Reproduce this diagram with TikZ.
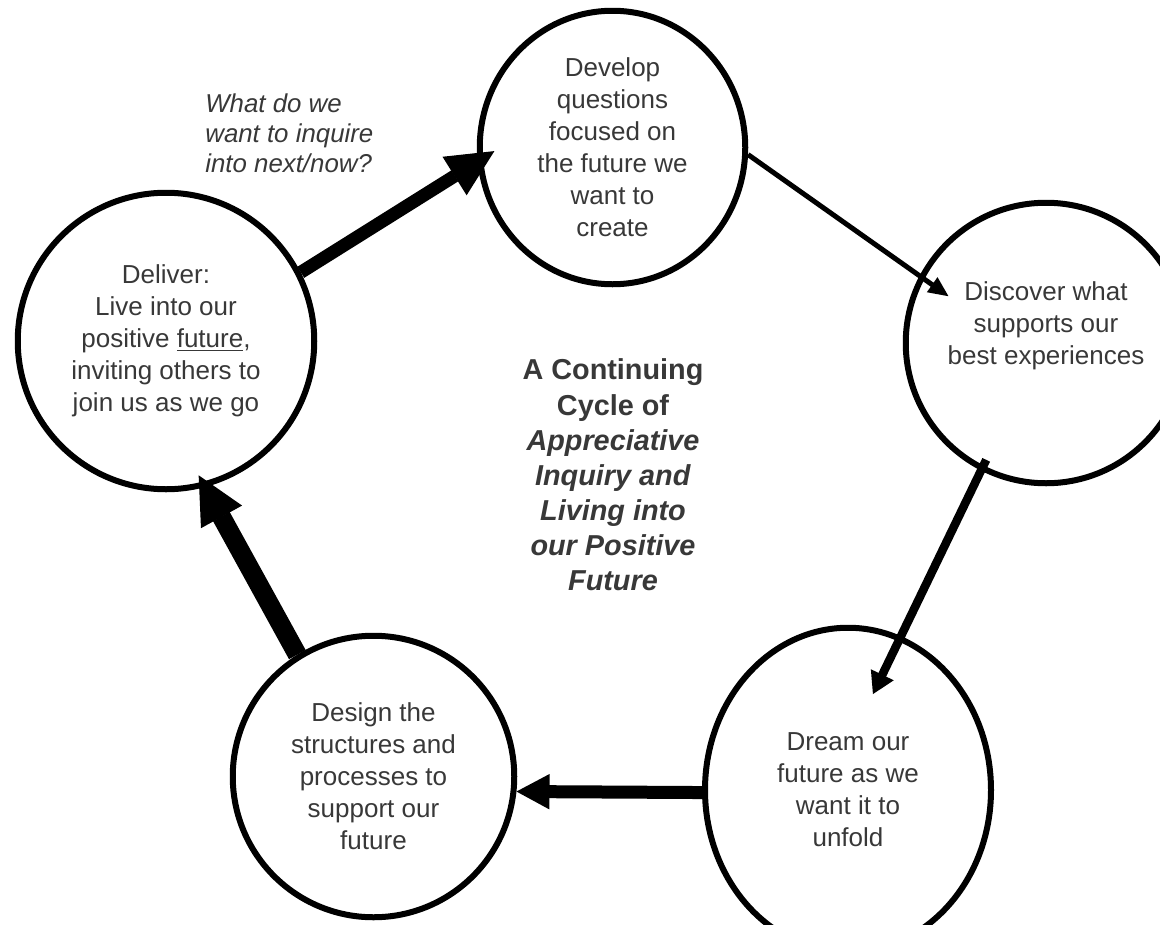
\documentclass[tikz,border=0pt]{standalone}
\usepackage{fontspec}
\setmainfont{Liberation Sans}
\usetikzlibrary{shapes.geometric,arrows.meta}

\tikzset{
  phase/.style={draw, ellipse, line width=0.12cm, inner sep=0pt, align=center,
    text=black!78, font=\fontsize{14.8}{18.2}\selectfont},
  ask/.style={anchor=west, align=left, inner sep=0pt, text=black!78,
    font=\fontsize{14.7}{17}\selectfont\itshape},
  cycletitle/.style={align=center, inner sep=0pt, text=black!78,
    font=\fontsize{16.4}{20}\selectfont\bfseries},
}

\begin{document}
\begin{tikzpicture}
\useasboundingbox (0,0) rectangle (23.2,-18.5);

\node[phase, minimum width=5.93cm, minimum height=5.93cm] (deliver) at (3.32,-6.82) {Deliver:\\Live into our\\positive \underline{future},\\inviting others to\\join us as we go};
\node[phase, minimum width=5.31cm, minimum height=5.47cm] (develop) at (12.25,-2.95) {Develop\\questions\\focused on\\the future we\\want to\\create};
\node[phase, minimum width=5.61cm, minimum height=5.61cm] (discover) at (20.92,-6.86) {Discover what\\supports our\\best experiences\\[5pt]\mbox{}};
\node[phase, minimum width=5.72cm, minimum height=6.49cm] (dream) at (16.96,-15.8) {Dream our\\future as we\\want it to\\unfold};
\node[phase, minimum width=5.63cm, minimum height=5.63cm] (design) at (7.47,-15.53) {Design the\\structures and\\processes to\\support our\\future};

\node[ask] (question) at (4.1,-2.66) {What do we\\want to inquire\\into next/now?};
\node[cycletitle] (title) at (12.26,-9.5) {A Continuing\\Cycle of\\\textit{Appreciative}\\\textit{Inquiry and}\\\textit{Living into}\\\textit{our Positive}\\\textit{Future}};

\path[draw, line width=0.26cm, -{Triangle[length=0.94cm, width=0.9cm, line width=1pt]}, shorten >=-0.4cm] (deliver.27) -- (develop.186);
\path[draw, line width=0.1cm, -{Triangle[length=0.4cm, width=0.36cm, line width=1pt]}, shorten >=-0.71cm] (develop.-3) -- (discover.152);
\path[draw, line width=0.17cm, -{Triangle[length=0.43cm, width=0.5cm, line width=1pt]}, shorten <=-0.24cm, shorten >=-1.29cm] (discover.243) -- (dream.71);
\path[draw, line width=0.26cm, -{Triangle[length=0.66cm, width=0.7cm, line width=1pt]}] (dream.181) -- (design.-6);
\path[draw, line width=0.38cm, -{Triangle[length=0.95cm, width=0.93cm, line width=1pt]}, shorten >=-0.27cm] (design.122) -- (deliver.285);
\end{tikzpicture}
\end{document}
